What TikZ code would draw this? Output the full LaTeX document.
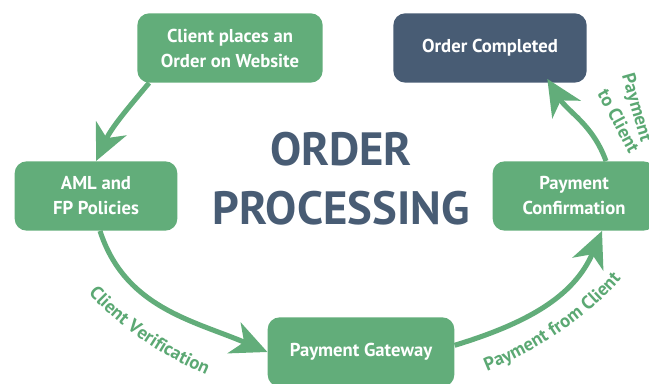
\documentclass[tikz,border=0pt]{standalone}
\usepackage{fontspec}
\setmainfont{PT Sans}
\usetikzlibrary{positioning, arrows.meta, decorations.text}
\definecolor{flowgreen}{HTML}{62AD7A}
\definecolor{slate}{HTML}{485C74}
\definecolor{labelgreen}{HTML}{5BA873}
\newcommand\labelfont{\color{labelgreen}\bfseries\fontsize{14}{15}\selectfont}

\begin{document}
\begin{tikzpicture}[x=0.75pt, y=0.75pt, >={Stealth[length=27pt, width=25pt, inset=8pt]},
    box/.style={rectangle, rounded corners=9pt, fill=flowgreen, text=white,
        font=\bfseries\fontsize{14}{18.75}\selectfont, align=center,
        minimum height=52pt, inner sep=0pt},
    flow/.style={->, draw=flowgreen, line width=3.8pt},
    title/.style={text=slate, font=\bfseries\fontsize{35}{44}\selectfont, align=center}]

    \useasboundingbox (0,0) rectangle (649,384);
    \clip (0,0) rectangle (649,384);

    % --- Process steps ---
    \node[box, minimum width=139pt] (Client) at (230,336) {Client places an\\Order on Website};
    \node[box, fill=slate, minimum width=145pt] (Done) at (490,336) {Order Completed};
    \node[box, minimum width=122pt] (AML) at (96,188) {AML and\\FP Policies};
    \node[box, minimum width=122pt] (Confirm) at (574,188) {Payment\\Confirmation};
    \node[box, minimum width=140pt] (Gateway) at (361,32) {Payment Gateway};

    % --- Title in the middle ---
    \node[title] (Title) at (341,205) {ORDER\\PROCESSING};

    % --- Cycle arrows ---
    \draw[flow] ([xshift=9pt]Client.south west) to[out=-130, in=65] (AML.north);
    \draw[flow] ([xshift=3pt]AML.south) to[out=-72, in=157] (Gateway.west);
    \draw[flow] ([yshift=5pt]Gateway.east) to[out=17, in=-113] ([xshift=21pt]Confirm.south);
    \draw[flow] ([xshift=24pt]Confirm.north) to[out=110, in=-58] ([xshift=43pt, yshift=3pt]Done.south);

    % --- Arrow labels ---
    \path[decorate, decoration={text along path, text align=center,
        text={|\labelfont|Client Verification}}]
        (80,100) .. controls (118,56) and (160,28) .. (218,4);
    \path[decorate, decoration={text along path, text align=center,
        text={|\labelfont|Payment from Client}}]
        (474,8) .. controls (530,28) and (592,66) .. (630,116);
    \node[font=\labelfont, rotate=-74] (ToClientA) at (636,276) {Payment};
    \node[font=\labelfont, rotate=-62] (ToClientB) at (619,263) {to Client};

\end{tikzpicture}
\end{document}
